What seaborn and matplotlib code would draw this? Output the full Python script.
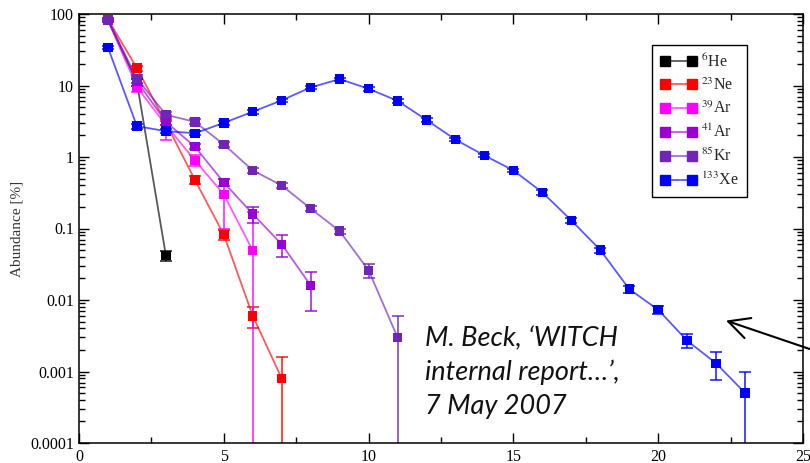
import numpy as np
import pandas as pd
import matplotlib
matplotlib.use("Agg")
import matplotlib.pyplot as plt
from matplotlib.lines import Line2D
from matplotlib.ticker import FixedLocator, FuncFormatter, LogLocator, NullFormatter, MultipleLocator
from matplotlib.colors import to_rgba
import seaborn as sns

# ---- data: abundance [%] per charge state ----
isotopes = ["$^{6}$He", "$^{23}$Ne", "$^{39}$Ar", "$^{41}$Ar", "$^{85}$Kr", "$^{133}$Xe"]
colors = ["#000000", "#ff0000", "#ff00ff", "#9900d6", "#7024b8", "#0000ff"]

he_x = [1, 2, 3]
he_y = [82, 11, 0.042]
he_err = [3, 1.2, 0.007]

ne_x = [1, 2, 3, 4, 5, 6, 7]
ne_y = [84, 17.5, 3.0, 0.48, 0.082, 0.006, 0.0008]
ne_err = [4, 1.5, 0.2, 0.06, 0.012, 0.002, 0.0008]

ar39_x = [1, 2, 3, 4, 5, 6]
ar39_y = [82, 9.5, 2.8, 0.9, 0.30, 0.049]
ar39_err = [4, 1.4, 1.05, 0.15, 0.2, 0.12]

ar41_x = [1, 2, 3, 4, 5, 6, 7, 8]
ar41_y = [84, 11.5, 3.1, 1.4, 0.44, 0.16, 0.06, 0.016]
ar41_err = [4, 1.5, 0.3, 0.1, 0.05, 0.04, 0.02, 0.009]

kr_x = [1, 2, 3, 4, 5, 6, 7, 8, 9, 10, 11]
kr_y = [82, 12.5, 3.9, 3.1, 1.5, 0.65, 0.40, 0.19, 0.092, 0.026, 0.003]
kr_err = [4, 1.5, 0.3, 0.25, 0.12, 0.05, 0.03, 0.015, 0.008, 0.006, 0.003]

xe_x = list(range(1, 24))
xe_y = [34, 2.7, 2.3, 2.15, 3.0, 4.3, 6.2, 9.4, 12.3, 9.0, 6.1, 3.3, 1.75,
        1.05, 0.65, 0.32, 0.13, 0.050, 0.0142, 0.0073, 0.0027, 0.0013, 0.0005]
xe_err = [2, 0.2, 0.15, 0.15, 0.2, 0.25, 0.35, 0.5, 0.6, 0.5, 0.35, 0.2, 0.1,
          0.06, 0.04, 0.025, 0.01, 0.004, 0.0017, 0.0009, 0.0006, 0.00055, 0.0005]

xticks = [0, 5, 10, 15, 20, 25]
yticks = [1e-4, 1e-3, 1e-2, 1e-1, 1, 10, 100]

series = [
    (he_x, he_y, he_err),
    (ne_x, ne_y, ne_err),
    (ar39_x, ar39_y, ar39_err),
    (ar41_x, ar41_y, ar41_err),
    (kr_x, kr_y, kr_err),
    (xe_x, xe_y, xe_err),
]

frames = []
for name, (xs, ys, es) in zip(isotopes, series):
    frames.append(pd.DataFrame({"charge": xs, "abundance": ys, "err": es, "isotope": name}))
df = pd.concat(frames, ignore_index=True)
palette = dict(zip(isotopes, colors))

# ---- style ----
sns.set_theme(style="ticks")
plt.rcParams["font.family"] = ["Liberation Serif", "DejaVu Serif"]
plt.rcParams["mathtext.fontset"] = "stix"
plt.rcParams["axes.linewidth"] = 1.1
plt.rcParams["axes.edgecolor"] = "black"

fig = plt.figure(figsize=(8.1, 4.63), dpi=100)
ax = fig.add_axes([79 / 810, 1 - 443 / 463, (803 - 79) / 810, (443 - 14) / 463])
ax.set_yscale("log")

# connecting lines (lighter than the markers)
sns.lineplot(data=df, x="charge", y="abundance", hue="isotope", palette=palette,
             estimator=None, sort=False, legend=False, alpha=0.65, linewidth=1.3,
             ax=ax, zorder=2)

# error bars
for name, (xs, ys, es), c in zip(isotopes, series, colors):
    ax.errorbar(xs, ys, yerr=es, fmt="none", ecolor=to_rgba(c, 0.85),
                elinewidth=1.2, capsize=4.5, capthick=1.2, zorder=2.5)

# square markers
sns.scatterplot(data=df, x="charge", y="abundance", hue="isotope", palette=palette,
                marker="s", s=46, linewidth=0, legend=False, ax=ax, zorder=3)

# ---- axes ----
ax.set_xlim(0, 25)
ax.set_ylim(1e-4, 100)
ax.xaxis.set_major_locator(FixedLocator(xticks))
ax.xaxis.set_minor_locator(MultipleLocator(2.5))
ax.yaxis.set_major_locator(FixedLocator(yticks))
ax.yaxis.set_minor_locator(LogLocator(base=10, subs=np.arange(2, 10), numticks=20))
ax.yaxis.set_minor_formatter(NullFormatter())
ax.yaxis.set_major_formatter(FuncFormatter(lambda v, p: "%g" % v))
ax.tick_params(which="both", direction="in", top=True, right=True, colors="black",
               labelsize=11.5, width=1.0)
ax.tick_params(which="major", length=7)
ax.tick_params(which="minor", length=4)
ax.tick_params(axis="x", pad=4)
for lbl in ax.get_xticklabels() + ax.get_yticklabels():
    lbl.set_family(["Liberation Serif", "DejaVu Serif"])
ax.set_xlabel("")
ax.set_ylabel("Abundance [%]", fontsize=11, color="#333333", labelpad=5)
for s in ax.spines.values():
    s.set_visible(True)
    s.set_color("black")

# ---- legend ----
handles = [Line2D([], [], color=to_rgba(c, 0.65), lw=1.3, marker="s", markersize=7,
                  markerfacecolor=c, markeredgecolor=c) for c in colors]
leg = ax.legend(handles, isotopes, loc="upper left", numpoints=2,
                bbox_to_anchor=(652 / 810, 1 - 45 / 463), bbox_transform=fig.transFigure,
                fontsize=11.5, frameon=True, fancybox=False, edgecolor="black",
                framealpha=1, handlelength=2.3, handletextpad=0.25,
                labelspacing=0.42, borderpad=0.5, borderaxespad=0)
leg.get_frame().set_linewidth(1.0)

# ---- reference note with arrow ----
fig.text(425 / 810, 1 - 326 / 463, "M. Beck, \u2018WITCH\ninternal report\u2026\u2019,\n7 May 2007",
         family=["Lato", "DejaVu Sans"], style="italic", fontsize=19.5, ha="left", va="top",
         linespacing=1.42, color="#111111")
ax.annotate("", xy=(22.25, 0.0053), xycoords="data",
            xytext=(1.025, 1 - 356 / 463), textcoords="figure fraction",
            arrowprops=dict(arrowstyle="->,head_length=0.75,head_width=0.38",
                            color="black", lw=1.5, mutation_scale=20),
            annotation_clip=False)

fig.savefig("out.png", dpi=100)
